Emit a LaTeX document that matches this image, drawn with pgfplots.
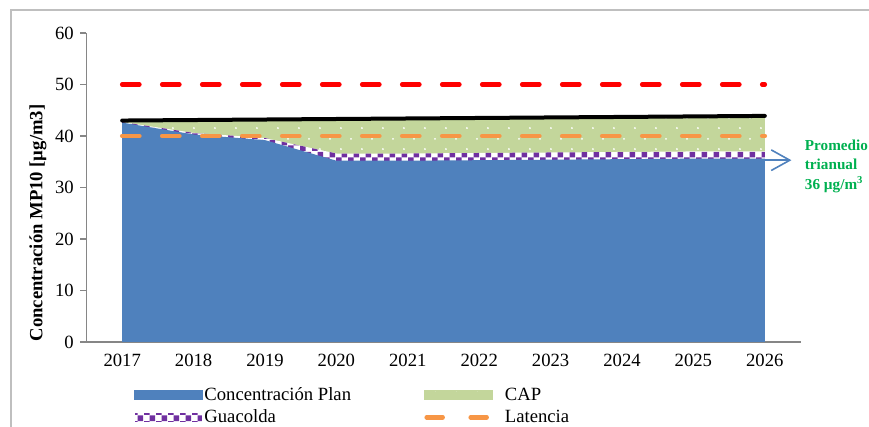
\documentclass[border=0pt]{standalone}
\usepackage{fontspec}
\setmainfont{Liberation Serif}
\usepackage{pgfplots}
\pgfplotsset{compat=1.18}
\usepackage{pgfplotstable}
\usetikzlibrary{patterns.meta}

\definecolor{planblue}{HTML}{4F81BD}
\definecolor{capgreen}{HTML}{C3D69B}
\definecolor{guapurple}{HTML}{7030A0}
\definecolor{latorange}{HTML}{F79646}
\definecolor{axisgrey}{HTML}{868686}
\definecolor{framegrey}{HTML}{BFBFBF}
\definecolor{txtgreen}{HTML}{00B050}

\tikzdeclarepattern{
  name=capdots, type=uncolored,
  bounding box={(0pt,0pt) and (15.75pt,15.75pt)},
  tile size={(15.75pt,15.75pt)},
  code={\fill (3.9pt,3.9pt) circle (0.8pt); \fill (11.8pt,11.8pt) circle (0.8pt);}
}
\tikzdeclarepattern{
  name=checker, type=uncolored,
  bounding box={(0pt,0pt) and (9pt,9pt)},
  tile size={(9pt,9pt)},
  code={\fill (0pt,0pt) rectangle (4.5pt,4.5pt); \fill (4.5pt,4.5pt) rectangle (9pt,9pt);}
}

% year index, Concentracion Plan, Guacolda, CAP, upper black line
\pgfplotstableread{
x plan guac cap top
0 42.6 0.1 0.1 43.0
1 40.3 0.3 2.3 43.1
2 39.2 0.4 3.4 43.2
3 35.2 1.4 6.5 43.3
4 35.2 1.4 6.6 43.4
5 35.3 1.4 6.6 43.5
6 35.4 1.4 6.6 43.6
7 35.5 1.4 6.6 43.7
8 35.6 1.4 6.6 43.8
9 35.6 1.4 6.7 43.9
}\datatable

\begin{document}
\begin{tikzpicture}
\useasboundingbox (0,0) rectangle (651.75pt,320.25pt);
\draw[framegrey, line width=1pt] (8.25pt,-20pt) -- (8.25pt,312.75pt) -- (700pt,312.75pt);
\begin{axis}[
  at={(64.875pt,63.75pt)}, anchor=south west,
  scale only axis, width=535.5pt, height=231.75pt,
  xmin=-0.5, xmax=9.5, ymin=0, ymax=60,
  axis lines=left, axis line style={axisgrey, line width=0.8pt, -},
  xtick={0,...,9},
  xticklabels={2017,2018,2019,2020,2021,2022,2023,2024,2025,2026},
  x tick style={draw=none},
  extra x ticks={0.5,1.5,...,9.5},
  extra x tick labels={},
  extra x tick style={major tick length=4.5pt, tick style={axisgrey, line width=0.8pt, draw=axisgrey}, tick align=outside},
  ytick={0,10,...,60},
  y tick style={axisgrey, line width=0.8pt},
  tick align=outside, major tick length=4.5pt,
  tick label style={font=\fontsize{14}{16}\selectfont},
  /pgf/number format/assume math mode=true,
  xticklabel style={yshift=-1pt},
  yticklabel style={xshift=-1.5pt},
  ylabel={\textbf{Concentración MP10 [µg/m3]}},
  ylabel style={font=\fontsize{14}{16}\selectfont, at={(axis description cs:-0.068,0.385)}, anchor=center},
  legend columns=2,
  legend style={at={(axis description cs:0.066,-0.14)}, anchor=north west, draw=none, fill=none,
    font=\fontsize{14}{16}\selectfont, inner sep=0pt, row sep=2.5pt,
    nodes={inner sep=1.5pt}},
  legend cell align=left,
  clip=false,
]
\addlegendimage{legend image code/.code={\fill[planblue] (0pt,-3.5pt) rectangle (51pt,3.5pt);}}
\addlegendentry{\makebox[163pt][l]{Concentración Plan}}
\addlegendimage{legend image code/.code={\fill[capgreen, postaction={pattern=capdots, pattern color=white}] (0pt,-3.5pt) rectangle (51pt,3.5pt);}}
\addlegendentry{\hspace{8pt}CAP}
\addlegendimage{legend image code/.code={\fill[white, postaction={pattern=checker, pattern color=guapurple}] (0pt,-3.5pt) rectangle (51pt,3.5pt);}}
\addlegendentry{\makebox[163pt][l]{Guacolda}}
\addlegendimage{legend image code/.code={\draw[latorange, line width=3.4pt, line cap=round] (2pt,0pt) -- (14pt,0pt) (35pt,0pt) -- (47pt,0pt);}}
\addlegendentry{\hspace{8pt}Latencia}

% CAP (stacked on top of Plan + Guacolda)
\addplot[forget plot, draw=none, fill=capgreen, postaction={pattern=capdots, pattern color=white}]
  table[x=x, y expr=\thisrow{plan}+\thisrow{guac}+\thisrow{cap}] {\datatable} \closedcycle;
% Guacolda (stacked on top of Plan)
\addplot[forget plot, draw=none, fill=white, postaction={pattern=checker, pattern color=guapurple}]
  table[x=x, y expr=\thisrow{plan}+\thisrow{guac}] {\datatable} \closedcycle;
% Concentracion Plan
\addplot[forget plot, draw=none, fill=planblue] table[x=x, y=plan] {\datatable} \closedcycle;

% Norma (red) and Latencia (orange)
\addplot[forget plot, red, line width=3.4pt, line cap=round, dash pattern=on 12.9pt off 17.1pt]
  coordinates {(0,50) (9,50)};
\addplot[forget plot, latorange, line width=3.4pt, line cap=round, dash pattern=on 12.9pt off 17.1pt]
  coordinates {(0,40) (9,40)};
% upper black line
\addplot[forget plot, black, line width=3pt, line cap=round] table[x=x, y=top] {\datatable};

% arrow annotation
\draw[planblue, line width=1.2pt] (axis cs:9,35.3) -- (axis cs:9.35,35.3);
\draw[planblue, line width=1.2pt] (axis cs:9.09,37.3) -- (axis cs:9.35,35.3) -- (axis cs:9.09,33.3);
\end{axis}
\node[anchor=north west, inner sep=0pt, align=left, text=txtgreen,
  font=\fontsize{11.4}{14.5}\selectfont\bfseries] at (603.5pt,215.5pt)
  {Promedio\\trianual\\36 µg/m\textsuperscript{3}};
\end{tikzpicture}
\end{document}
